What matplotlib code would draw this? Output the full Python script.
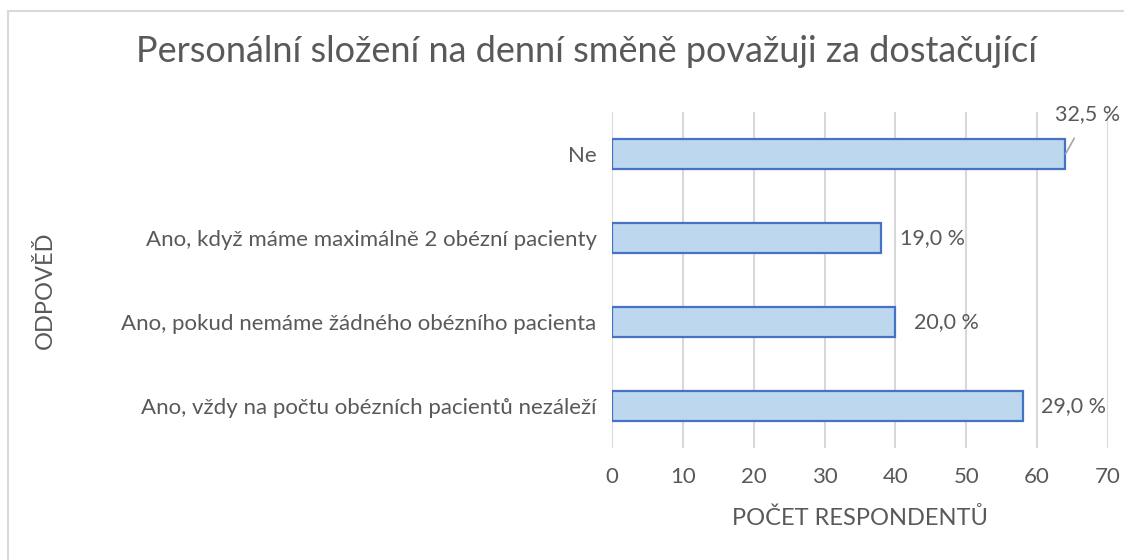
import matplotlib.pyplot as plt
from matplotlib.patches import Rectangle

# Data
categories = ['Ano, vždy na počtu obézních pacientů nezáleží',
              'Ano, pokud nemáme žádného obézního pacienta',
              'Ano, když máme maximálně 2 obézní pacienty',
              'Ne']
counts = [58, 40, 38, 64]
labels = ['29,0 %', '20,0 %', '19,0 %', '32,5 %']
xticks = [0, 10, 20, 30, 40, 50, 60, 70]

plt.rcParams['font.family'] = ['Lato', 'DejaVu Sans']
grey = '#595959'

fig = plt.figure(figsize=(11.24, 5.6), dpi=100)
ax = fig.add_axes([612 / 1124, 0.2, 496 / 1124, 0.6])

y = range(len(categories))
ax.barh(y, counts, height=0.36, color='#bdd7ee', edgecolor='#4472c4', linewidth=1.6, zorder=3)

ax.set_xlim(0, 70)
ax.set_ylim(-0.5, len(categories) - 0.5)
ax.set_xticks(xticks)
ax.set_yticks(list(y))
ax.set_yticklabels(categories)
ax.tick_params(axis='both', length=0, colors=grey, labelsize=16)
ax.tick_params(axis='x', pad=14)
ax.tick_params(axis='y', pad=11)
ax.grid(axis='x', color='#d9d9d9', linewidth=1.5, zorder=0)
for s in ax.spines.values():
    s.set_visible(False)

# data labels
for i, (c, lab) in enumerate(zip(counts, labels)):
    if i == len(categories) - 1:
        ax.annotate(lab, xy=(c, i), xytext=(c + 3.1, i + 0.47), color=grey, fontsize=15.5,
                    ha='center', va='center',
                    arrowprops=dict(arrowstyle='-', color='#a6a6a6', lw=1.2,
                                    shrinkA=9, shrinkB=0))
    else:
        ax.text(c + 2.6, i, lab, color=grey, fontsize=15.5, va='center', ha='left')

ax.set_xlabel('POČET RESPONDENTŮ', color=grey, fontsize=17, labelpad=14)
fig.text(45 / 1124, 1 - 290 / 560, 'ODPOVĚĎ', rotation=90, color=grey, fontsize=17,
         ha='center', va='center')
fig.text(586 / 1124, 1 - 52 / 560, 'Personální složení na denní směně považuji za dostačující',
         color=grey, fontsize=26, ha='center', va='center')

# chart border
fig.patches.append(Rectangle((8 / 1124, -0.1), 1.2, 1 - 10.5 / 560 + 0.1, transform=fig.transFigure,
                             fill=False, edgecolor='#d9d9d9', linewidth=1.5))

plt.savefig('out.png', dpi=100)
